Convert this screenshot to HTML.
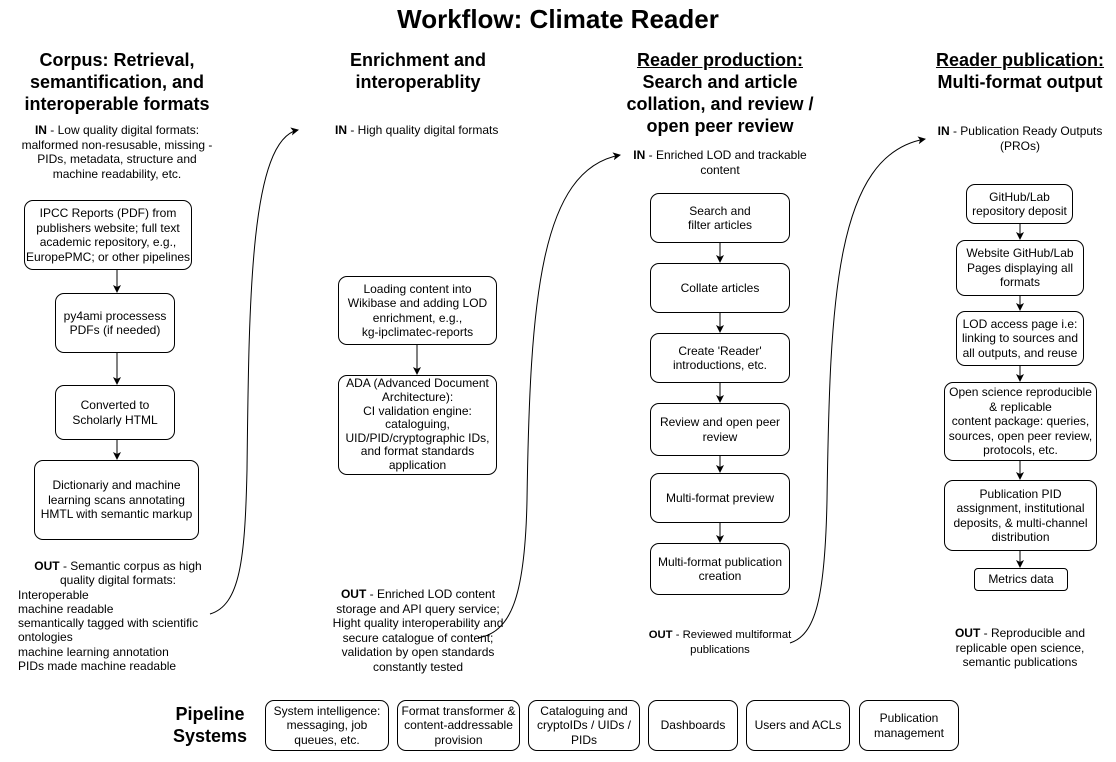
<!DOCTYPE html>
<html><head><meta charset="utf-8"><style>
body{margin:0;width:1116px;height:762px;background:#fff;position:relative;overflow:hidden;font-family:"Liberation Sans",Arial,sans-serif;color:#000}
.t{position:absolute;text-align:center;font-size:12px;line-height:14.5px}
.h{position:absolute;text-align:center;font-weight:bold;font-size:18px;line-height:22px}
.b{position:absolute;box-sizing:border-box;border:1px solid #000;border-radius:9px;display:flex;align-items:center;justify-content:center;text-align:center;font-size:12px;line-height:14.5px;background:#fff;padding:0 5px}
u{text-decoration:underline}
svg{position:absolute;left:0;top:0}
</style></head><body>
<svg width="1116" height="762">
<defs><marker id="a" markerWidth="8" markerHeight="8" refX="7" refY="4" orient="auto" markerUnits="userSpaceOnUse"><path d="M0,0 L8,4 L0,8 L2,4z" fill="#000"/></marker></defs>
<g fill="none" stroke="#000" stroke-width="1">
<path d="M210,614 C240,605 245,560 247,470 C249,300 250,140 298,130" marker-end="url(#a)"/>
<path d="M478,638 C510,632 525,600 527,500 C530,300 540,170 620,155" marker-end="url(#a)"/>
<path d="M790,643 C815,635 825,600 827,500 C830,300 835,155 925,139" marker-end="url(#a)"/>
<line x1="117" y1="270" x2="117" y2="292" marker-end="url(#a)"/>
<line x1="117" y1="353" x2="117" y2="384" marker-end="url(#a)"/>
<line x1="117" y1="440" x2="117" y2="459" marker-end="url(#a)"/>
<line x1="417" y1="345" x2="417" y2="374" marker-end="url(#a)"/>
<line x1="720" y1="243" x2="720" y2="262" marker-end="url(#a)"/>
<line x1="720" y1="313" x2="720" y2="332" marker-end="url(#a)"/>
<line x1="720" y1="383" x2="720" y2="402" marker-end="url(#a)"/>
<line x1="720" y1="456" x2="720" y2="472" marker-end="url(#a)"/>
<line x1="720" y1="523" x2="720" y2="542" marker-end="url(#a)"/>
<line x1="1020" y1="224" x2="1020" y2="239" marker-end="url(#a)"/>
<line x1="1020" y1="296" x2="1020" y2="310" marker-end="url(#a)"/>
<line x1="1020" y1="366" x2="1020" y2="381" marker-end="url(#a)"/>
<line x1="1020" y1="461" x2="1020" y2="479" marker-end="url(#a)"/>
<line x1="1020" y1="551" x2="1020" y2="567" marker-end="url(#a)"/>
</g></svg>

<div class="h" style="left:0;width:1116px;top:4px;font-size:26px;line-height:30px">Workflow: Climate Reader</div>

<div class="h" style="left:0;width:234px;top:49px">Corpus: Retrieval,<br>semantification, and<br>interoperable formats</div>
<div class="t" style="left:15px;width:204px;top:123px"><b>IN</b> - Low quality digital formats: malformed non-resusable, missing - PIDs, metadata, structure and machine readability, etc.</div>
<div class="b" style="left:24px;top:200px;width:168px;height:70px;padding:0">IPCC Reports (PDF) from<br>publishers website; full text<br>academic repository, e.g.,<br>EuropePMC; or other pipelines</div>
<div class="b" style="left:55px;top:293px;width:120px;height:60px">py4ami processess<br>PDFs (if needed)</div>
<div class="b" style="left:55px;top:385px;width:120px;height:55px">Converted to<br>Scholarly HTML</div>
<div class="b" style="left:34px;top:460px;width:165px;height:80px">Dictionariy and machine learning scans annotating HMTL with semantic markup</div>
<div class="t" style="left:18px;width:200px;top:559px;text-align:left;line-height:14.3px"><div style="text-align:center"><b>OUT</b> - Semantic corpus as high quality digital formats:</div>Interoperable<br>machine readable<br>semantically tagged with scientific ontologies<br>machine learning annotation<br>PIDs made machine readable</div>

<div class="h" style="left:318px;width:200px;top:49px">Enrichment and<br>interoperablity</div>
<div class="t" style="left:335px;top:123px;white-space:nowrap"><b>IN</b> - High quality digital formats</div>
<div class="b" style="left:338px;top:276px;width:159px;height:69px">Loading content into Wikibase and adding LOD enrichment, e.g.,<br>kg-ipclimatec-reports</div>
<div class="b" style="left:338px;top:375px;width:159px;height:100px;line-height:13.6px;padding:0 2px">ADA (Advanced Document Architecture):<br>CI validation engine: cataloguing, UID/PID/cryptographic IDs, and format standards application</div>
<div class="t" style="left:330px;width:176px;top:587px"><b>OUT</b> - Enriched LOD content storage and API query service; Hight quality interoperability and secure catalogue of content; validation by open standards constantly tested</div>

<div class="h" style="left:610px;width:220px;top:49px"><u>Reader production:</u><br>Search and article collation, and review / open peer review</div>
<div class="t" style="left:630px;width:180px;top:148px"><b>IN</b> - Enriched LOD and trackable content</div>
<div class="b" style="left:650px;top:193px;width:140px;height:50px">Search and<br>filter articles</div>
<div class="b" style="left:650px;top:263px;width:140px;height:50px">Collate articles</div>
<div class="b" style="left:650px;top:333px;width:140px;height:50px">Create 'Reader'<br>introductions, etc.</div>
<div class="b" style="left:650px;top:403px;width:140px;height:53px">Review and open peer<br>review</div>
<div class="b" style="left:650px;top:473px;width:140px;height:50px">Multi-format preview</div>
<div class="b" style="left:650px;top:543px;width:140px;height:52px">Multi-format publication<br>creation</div>
<div class="t" style="left:630px;width:180px;top:628px;font-size:11.3px;white-space:nowrap"><b>OUT</b> - Reviewed multiformat<br>publications</div>

<div class="h" style="left:920px;width:200px;top:49px"><u>Reader publication:</u><br>Multi-format output</div>
<div class="t" style="left:930px;width:180px;top:124px"><b>IN</b> - Publication Ready Outputs (PROs)</div>
<div class="b" style="left:966px;top:184px;width:107px;height:40px">GitHub/Lab<br>repository deposit</div>
<div class="b" style="left:956px;top:240px;width:128px;height:56px">Website GitHub/Lab Pages displaying all formats</div>
<div class="b" style="left:956px;top:311px;width:128px;height:55px;padding:0">LOD access page i.e:<br>linking to sources and<br>all outputs, and reuse</div>
<div class="b" style="left:944px;top:382px;width:153px;height:79px;padding:0 2px">Open science reproducible &amp; replicable<br>content package: queries, sources, open peer review, protocols, etc.</div>
<div class="b" style="left:944px;top:480px;width:153px;height:71px">Publication PID<br>assignment, institutional deposits, &amp; multi-channel distribution</div>
<div class="b" style="left:974px;top:568px;width:94px;height:23px;border-radius:4px">Metrics data</div>
<div class="t" style="left:940px;width:160px;top:626px"><b>OUT</b> - Reproducible and replicable open science, semantic publications</div>

<div class="h" style="left:160px;width:100px;top:703px">Pipeline<br>Systems</div>
<div class="b" style="left:265px;top:700px;width:124px;height:51px">System intelligence: messaging, job queues, etc.</div>
<div class="b" style="left:397px;top:700px;width:123px;height:51px;padding:0 2px">Format transformer &amp; content-addressable provision</div>
<div class="b" style="left:528px;top:700px;width:112px;height:51px">Cataloguing and cryptoIDs / UIDs / PIDs</div>
<div class="b" style="left:648px;top:700px;width:90px;height:51px">Dashboards</div>
<div class="b" style="left:746px;top:700px;width:104px;height:51px">Users and ACLs</div>
<div class="b" style="left:859px;top:700px;width:100px;height:51px">Publication<br>management</div>
</body></html>
